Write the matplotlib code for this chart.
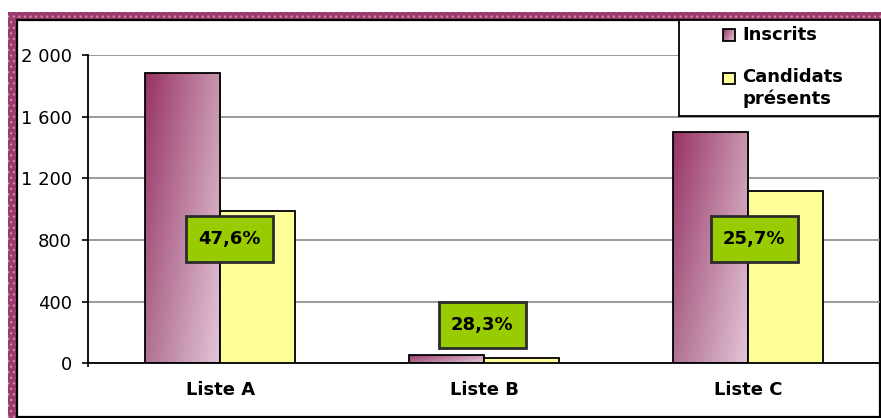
import numpy as np
import matplotlib
matplotlib.use("Agg")
import matplotlib.pyplot as plt
from matplotlib.patches import Rectangle

# ---- data ----
categories = ["Liste A", "Liste B", "Liste C"]
series_names = ["Inscrits", "Candidats\nprésents"]
inscrits = [1883, 52, 1500]
presents = [991, 32, 1117]
pct_labels = ["47,6%", "28,3%", "25,7%"]
yticks = [0, 400, 800, 1200, 1600, 2000]
ytick_labels = ["0", "400", "800", "1 200", "1 600", "2 000"]

W, H = 881, 418
fig = plt.figure(figsize=(W / 100, H / 100), dpi=100)
fig.patch.set_facecolor("white")

def fx(px):
    return px / W

def fy(py):
    return (H - py) / H

# outer pink patterned border
pink = Rectangle((fx(7.5), 0), 1 - fx(7.5), fy(12), transform=fig.transFigure,
                 facecolor="#9c3a6b", edgecolor="#c986a9", hatch="...",
                 linewidth=0, zorder=-10)
fig.add_artist(pink)
inner = Rectangle((fx(17), fy(416.5)), fx(880) - fx(17), fy(19.5) - fy(416.5),
                  transform=fig.transFigure, facecolor="white", edgecolor="black",
                  linewidth=1.6, zorder=-9)
fig.add_artist(inner)

ax = fig.add_axes([fx(88.3), fy(363.3), fx(880) - fx(88.3), fy(55.3) - fy(363.3)])
ax.set_facecolor("none")

TL = np.array([0x99, 0x33, 0x66]) / 255
TR = np.array([0xc8, 0x96, 0xae]) / 255
BL = np.array([0xb0, 0x72, 0x92]) / 255
BR = np.array([0xe4, 0xc6, 0xd8]) / 255

def grad(n=60):
    u = np.linspace(0, 1, n)[None, :, None]
    v = np.linspace(0, 1, n)[:, None, None]
    return (1 - v) * ((1 - u) * TL + u * TR) + v * ((1 - u) * BL + u * BR)

G = grad()
bw = 0.285
xc = np.arange(len(categories)) + 0.5
for i, (a, b) in enumerate(zip(inscrits, presents)):
    x0 = xc[i] - bw
    r = Rectangle((x0, 0), bw, a, facecolor="none", edgecolor="black", linewidth=1.3, zorder=3)
    ax.add_patch(r)
    im = ax.imshow(G, extent=(x0, x0 + bw, 0, a), origin="upper", aspect="auto",
                   zorder=2, interpolation="bilinear")
    im.set_clip_path(r)
    ax.bar(xc[i], b, width=bw, align="edge", facecolor="#ffff99", edgecolor="black",
           linewidth=1.3, zorder=3)

# percent label boxes (center positions in data coords)
lab_x = [0.534, 1.492, 2.523]
lab_y = [809, 246, 809]
bx_w, bx_h = 87 / 263.9, 46 * 2000 / 308
for x, y, t in zip(lab_x, lab_y, pct_labels):
    ax.add_patch(Rectangle((x - bx_w / 2, y - bx_h / 2), bx_w, bx_h, facecolor="#99cc00",
                           edgecolor="#2b2b2b", linewidth=2, zorder=5))
    ax.text(x, y, t, ha="center", va="center", fontsize=13, fontweight="bold",
            color="black", zorder=6)

ax.set_xlim(0, 3)
ax.set_ylim(0, 2000)
ax.set_yticks(yticks)
ax.set_yticklabels(ytick_labels, fontsize=13)
ax.yaxis.grid(True, color="#808080", linewidth=1.1, zorder=0)
ax.set_axisbelow(True)
ax.set_xticks(xc)
ax.set_xticklabels(categories, fontsize=13, fontweight="bold")
ax.set_xticks([0], minor=True)
ax.tick_params(axis="x", which="major", length=0, pad=13)
ax.tick_params(axis="x", which="minor", length=3, width=1.2, direction="out")
ax.tick_params(axis="y", length=4, width=1.2, pad=8, direction="out")
for s in ["top", "right"]:
    ax.spines[s].set_visible(False)
for s in ["left", "bottom"]:
    ax.spines[s].set_linewidth(1.3)
    ax.spines[s].set_color("black")

# legend box
lax = fig.add_axes([fx(679), fy(116), fx(880) - fx(679), fy(20) - fy(116)], zorder=10)
lax.set_xticks([])
lax.set_yticks([])
lax.set_facecolor("white")
for s in lax.spines.values():
    s.set_linewidth(1.3)
    s.set_color("black")
sq = Rectangle((44, 9.3), 12, 11.7, facecolor="none", edgecolor="black", linewidth=1.3, zorder=3)
lax.add_patch(sq)
im = lax.imshow(G, extent=(44, 56, 21, 9.3), origin="upper", aspect="auto", zorder=2)
im.set_clip_path(sq)
lax.add_patch(Rectangle((44, 52.7), 12, 11, facecolor="#ffff99", edgecolor="black",
                        linewidth=1.3, zorder=3))
lax.set_xlim(0, 201)
lax.set_ylim(96, 0)
lax.text(63.5, 15, series_names[0], ha="left", va="center", fontsize=13, fontweight="bold")
lax.text(63.5, 48, series_names[1], ha="left", va="top", fontsize=13, fontweight="bold",
         linespacing=1.25)

fig.savefig("out.png", dpi=100)
